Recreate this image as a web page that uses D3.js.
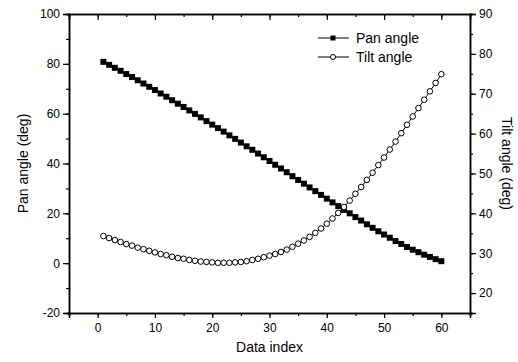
<!DOCTYPE html>
<html><head><meta charset="utf-8">
<script src="https://cdn.jsdelivr.net/npm/d3@7"></script>
<style>body{margin:0;background:#fff}svg{display:block;font-family:"Liberation Sans",Arial,sans-serif}</style>
</head><body><svg id="c" width="518" height="362"></svg>
<script>
const dataIndex = d3.range(1, 61);
const panAngle = [80.8,79.6,78.4,77.2,75.9,74.7,73.4,72.1,70.8,69.5,68.1,66.8,65.4,64.0,62.7,61.3,59.9,58.5,57.0,55.6,54.2,52.8,51.3,49.9,48.4,46.9,45.5,44.0,42.5,41.0,39.5,38.0,36.5,34.9,33.4,31.9,30.4,28.9,27.4,25.9,24.4,22.9,21.4,20.0,18.5,17.1,15.6,14.2,12.8,11.5,10.2,8.9,7.7,6.5,5.4,4.4,3.4,2.5,1.6,0.8];
const tiltAngle = [34.3,33.8,33.3,32.8,32.3,31.9,31.4,31.0,30.6,30.2,29.8,29.5,29.1,28.8,28.6,28.3,28.1,27.9,27.8,27.7,27.6,27.6,27.6,27.7,27.8,28.0,28.3,28.6,29.0,29.4,29.8,30.3,30.9,31.6,32.4,33.2,34.1,35.1,36.2,37.4,38.7,40.1,41.6,43.2,44.9,46.6,48.4,50.2,52.1,54.0,56.0,58.0,60.1,62.2,64.3,66.4,68.5,70.6,72.7,74.9];
const xTicks = [0,10,20,30,40,50,60];
const leftTicks = [-20,0,20,40,60,80,100];
const rightTicks = [20,30,40,50,60,70,80,90];
const seriesNames = ["Pan angle","Tilt angle"];

const svg = d3.select("#c");
const L = 69, R = 470, T = 14, B = 313;
const x = d3.scaleLinear().domain([-5,65]).range([L,R]);
const yL = d3.scaleLinear().domain([-20,100]).range([B,T]);
const yR = d3.scaleLinear().domain([15,90]).range([B,T]);
const fmt = d => String(d);

function styleAxis(g){
  g.selectAll("path").attr("stroke","#000").attr("stroke-width",1.5);
  g.selectAll("line").attr("stroke","#000").attr("stroke-width",1.2);
  g.selectAll("text").attr("font-size",12).attr("fill","#000").attr("font-family","Liberation Sans, Arial, sans-serif");
}
const minor = (lo,hi,step)=>d3.range(lo,hi+0.001,step);

// minor ticks
svg.append("g").attr("transform",`translate(0,${B})`)
  .call(d3.axisBottom(x).tickValues(minor(-5,65,5)).tickSize(3).tickFormat("")).call(styleAxis);
svg.append("g").attr("transform",`translate(0,${T})`)
  .call(d3.axisBottom(x).tickValues(minor(-5,65,5)).tickSize(3).tickFormat("")).call(styleAxis);
svg.append("g").attr("transform",`translate(${L},0)`)
  .call(d3.axisLeft(yL).tickValues(minor(-20,100,10)).tickSize(3).tickFormat("")).call(styleAxis);
svg.append("g").attr("transform",`translate(${R},0)`)
  .call(d3.axisRight(yR).tickValues(minor(15,90,5)).tickSize(3).tickFormat("")).call(styleAxis);

// major axes
svg.append("g").attr("transform",`translate(0,${B})`)
  .call(d3.axisBottom(x).tickValues(xTicks).tickSize(5).tickPadding(5).tickFormat(fmt)).call(styleAxis);
svg.append("g").attr("transform",`translate(0,${T})`)
  .call(d3.axisBottom(x).tickValues(xTicks).tickSize(6).tickFormat("")).call(styleAxis);
svg.append("g").attr("transform",`translate(${L},0)`)
  .call(d3.axisLeft(yL).tickValues(leftTicks).tickSize(6).tickPadding(3).tickFormat(fmt)).call(styleAxis);
svg.append("g").attr("transform",`translate(${R},0)`)
  .call(d3.axisRight(yR).tickValues(rightTicks).tickSize(6).tickPadding(3).tickFormat(fmt)).call(styleAxis);

// titles
svg.append("text").attr("x",(L+R)/2).attr("y",352).attr("text-anchor","middle").attr("font-size",14).text("Data index");
svg.append("text").attr("transform",`translate(28,${(T+B)/2}) rotate(-90)`).attr("text-anchor","middle").attr("font-size",14).text("Pan angle (deg)");
svg.append("text").attr("transform",`translate(502,${(T+B)/2}) rotate(90)`).attr("text-anchor","middle").attr("font-size",14).text("Tilt angle (deg)");

// series
const panLine = d3.line().x((d,i)=>x(dataIndex[i])).y(d=>yL(d));
const tiltLine = d3.line().x((d,i)=>x(dataIndex[i])).y(d=>yR(d));
svg.append("path").datum(panAngle).attr("d",panLine).attr("fill","none").attr("stroke","#000").attr("stroke-width",1);
svg.append("path").datum(tiltAngle).attr("d",tiltLine).attr("fill","none").attr("stroke","#000").attr("stroke-width",1);
svg.append("g").selectAll("rect").data(panAngle).join("rect")
  .attr("x",(d,i)=>x(dataIndex[i])-3).attr("y",d=>yL(d)-3).attr("width",6).attr("height",6).attr("fill","#000");
svg.append("g").selectAll("circle").data(tiltAngle).join("circle")
  .attr("cx",(d,i)=>x(dataIndex[i])).attr("cy",d=>yR(d)).attr("r",2.8)
  .attr("fill","#fff").attr("stroke","#000").attr("stroke-width",1);

// legend
const lg = svg.append("g");
[0,1].forEach(k=>{
  const cy = 38 + k*19;
  lg.append("line").attr("x1",318).attr("x2",349).attr("y1",cy).attr("y2",cy).attr("stroke","#000").attr("stroke-width",1);
  if(k===0) lg.append("rect").attr("x",330.5).attr("y",cy-2.5).attr("width",5).attr("height",5).attr("fill","#000");
  else lg.append("circle").attr("cx",333).attr("cy",cy).attr("r",2.5).attr("fill","#fff").attr("stroke","#000");
  lg.append("text").attr("x",356).attr("y",cy+5).attr("font-size",14).text(seriesNames[k]);
});
</script></body></html>
